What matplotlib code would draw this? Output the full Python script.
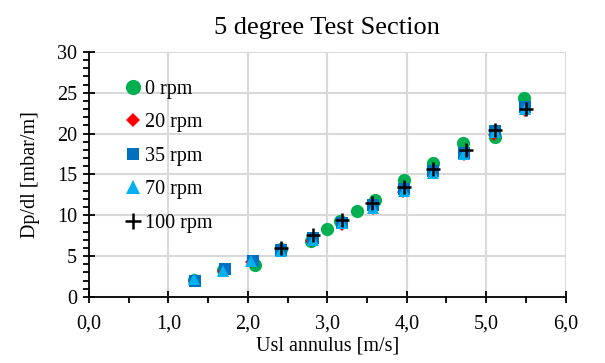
import numpy as np
import matplotlib.pyplot as plt
from matplotlib.ticker import MultipleLocator, FuncFormatter

plt.rcParams['font.family'] = ['Liberation Serif', 'DejaVu Serif']

# data
x0 = [1.32, 1.69, 2.09, 2.42, 2.80, 3.00, 3.16, 3.37, 3.60, 3.96, 4.33, 4.71, 5.11, 5.48]
y0 = [2.1, 3.35, 3.9, 5.9, 6.9, 8.37, 9.3, 10.5, 11.9, 14.3, 16.4, 18.85, 19.6, 24.3]
x20 = [1.32, 1.69, 2.04, 2.42, 2.80, 3.18, 3.57, 3.95, 4.33, 4.72, 5.10, 5.49]
y20 = [2.0, 3.2, 4.3, 5.7, 6.8, 8.8, 10.8, 12.8, 15.3, 17.4, 19.8, 22.8]
x35 = [1.33, 1.71, 2.06, 2.42, 2.82, 3.18, 3.58, 3.96, 4.33, 4.72, 5.11, 5.49]
y35 = [2.0, 3.4, 4.4, 5.8, 7.2, 9.0, 11.2, 13.2, 15.4, 17.6, 20.3, 23.3]
x70 = [1.32, 1.69, 2.04, 2.42, 2.82, 3.18, 3.58, 3.96, 4.33, 4.72, 5.11, 5.49]
y70 = [2.2, 3.2, 4.4, 5.6, 7.0, 9.0, 10.9, 13.0, 15.2, 17.5, 20.2, 23.0]
x100 = [2.42, 2.82, 3.18, 3.56, 3.96, 4.33, 4.74, 5.11, 5.50]
y100 = [6.05, 7.55, 9.47, 11.5, 13.4, 15.7, 18.0, 20.4, 23.05]

fig = plt.figure(figsize=(6.05, 3.63), dpi=100)
ax = fig.add_axes([0.147, 0.182, 0.788, 0.675])

ax.plot(x0, y0, 'o', color='#00B050', ms=9.5, mew=0, label='0 rpm', zorder=3)
ax.plot(x20, y20, 'D', color='#FF0000', ms=6.5, mew=0, label='20 rpm', zorder=4)
ax.plot(x35, y35, 's', color='#0070C0', ms=8, mew=0, label='35 rpm', zorder=5)
ax.plot(x70, y70, '^', color='#00B0F0', ms=9, mew=0, label='70 rpm', zorder=6)
ax.plot(x100, y100, '+', color='black', ms=10, mew=1.8, label='100 rpm', zorder=7)

ax.set_xlim(0, 6)
ax.set_ylim(0, 30)
ax.xaxis.set_major_locator(MultipleLocator(1))
ax.xaxis.set_minor_locator(MultipleLocator(0.5))
ax.yaxis.set_major_locator(MultipleLocator(5))
ax.yaxis.set_minor_locator(MultipleLocator(1))
ax.xaxis.set_major_formatter(FuncFormatter(lambda v, p: ('%.1f' % v).replace('.', ',')))

ax.grid(True, which='major', color='#D9D9D9', lw=1.5, zorder=0)
ax.set_axisbelow(True)
for s in ['top', 'right']:
    ax.spines[s].set_visible(False)
ax.spines['left'].set_linewidth(1.3)
ax.spines['bottom'].set_linewidth(1.3)
ax.tick_params(which='major', direction='inout', length=9, width=1.3, labelsize=14.5)
ax.tick_params(axis='x', which='major', pad=8)
ax.tick_params(axis='y', which='major', pad=4)
ax.tick_params(which='minor', direction='out', length=4, width=1.3)

ax.set_title('5 degree Test Section', fontsize=19, pad=13)
ax.set_xlabel('Usl annulus [m/s]', fontsize=14.5, labelpad=2)
ax.set_ylabel('Dp/dl [mbar/m]', fontsize=14.5, labelpad=12)

ax.legend(loc='upper left', bbox_to_anchor=(0.055, 0.92), frameon=False, fontsize=14.5,
          handletextpad=0.1, labelspacing=0.72, handlelength=1.0, borderaxespad=0,
          markerscale=1.15)

fig.savefig('out.png', dpi=100)
